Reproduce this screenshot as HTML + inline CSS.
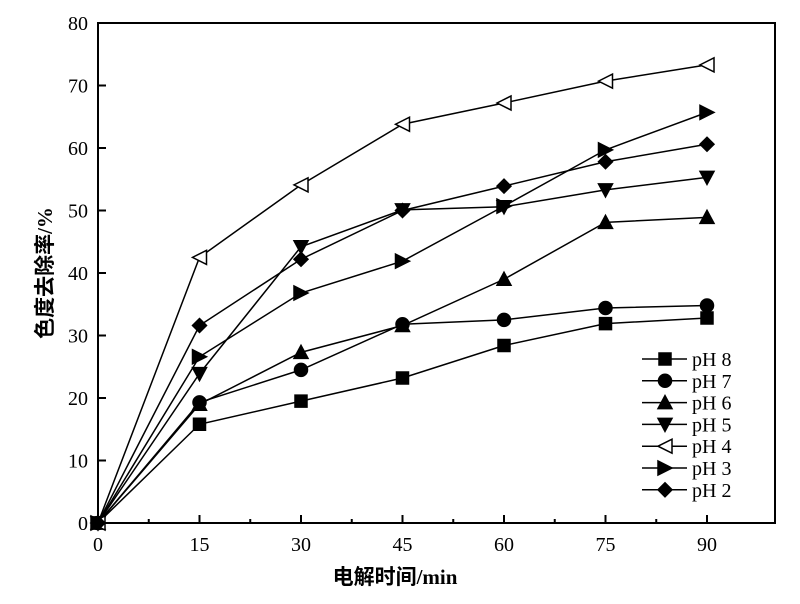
<!DOCTYPE html><html><head><meta charset="utf-8"><style>body{margin:0;background:#fff}</style></head><body>
<svg width="800" height="599" xmlns="http://www.w3.org/2000/svg" font-family="Liberation Serif, Noto Serif CJK SC, serif">
<rect x="98" y="23" width="677" height="500" fill="none" stroke="#000" stroke-width="2"/>
<g id="t" stroke="#000" stroke-width="2"></g>
<g id="d"></g>
<text x="395" y="584" font-size="21" font-family="Liberation Serif, Noto Sans CJK SC, serif" font-weight="bold" text-anchor="middle">电解时间/min</text>
<text transform="translate(52,273) rotate(-90)" font-size="21" font-weight="bold" font-family="Liberation Serif, Noto Sans CJK SC, serif" text-anchor="middle">色度去除率/%</text>
</svg>
<script>
const NS="http://www.w3.org/2000/svg",svg=document.querySelector('svg'),T=document.getElementById('t'),D=document.getElementById('d');
const X=v=>98+v*609/90,Y=v=>523-v*6.25;
function el(n,a,p){const e=document.createElementNS(NS,n);for(const k in a)e.setAttribute(k,a[k]);(p||svg).appendChild(e);return e}
for(let v=0;v<=90;v+=7.5){const x=X(v),l=v%15==0?8:4;el('line',{x1:x,x2:x,y1:523,y2:523-l},T);if(v%15==0){const t=el('text',{x:x,y:551,'font-size':20,'text-anchor':'middle'});t.textContent=v}}
for(let v=0;v<=80;v+=10){const y=Y(v);el('line',{x1:98,x2:106,y1:y,y2:y},T);const t=el('text',{x:88,y:y+7,'font-size':20,'text-anchor':'end'});t.textContent=v}
const xs=[0,15,30,45,60,75,90];
const S=[["8","sq",[0,15.8,19.5,23.2,28.4,31.9,32.8]],["7","ci",[0,19.3,24.5,31.8,32.5,34.4,34.8]],["6","up",[0,19,27.3,31.6,39,48.1,48.9]],["5","dn",[0,23.9,44.2,50.1,50.6,53.3,55.3]],["4","lt",[0,42.5,54.1,63.8,67.2,70.7,73.3]],["3","rt",[0,26.6,36.8,41.9,50.7,59.7,65.7]],["2","di",[0,31.6,42.2,50,53.9,57.8,60.6]]];
function mk(t,x,y){const s=7;let a={fill:t=='lt'?'#fff':'#000',stroke:'#000','stroke-width':1.5};
if(t=='sq')return el('rect',{...a,x:x-s+1,y:y-s+1,width:2*s-2,height:2*s-2},D);
if(t=='ci')return el('circle',{...a,cx:x,cy:y,r:s-0.5},D);
let p;if(t=='up')p=[[x,y-s],[x+s,y+s-1],[x-s,y+s-1]];if(t=='dn')p=[[x,y+s],[x+s,y-s+1],[x-s,y-s+1]];
if(t=='lt')p=[[x-s,y],[x+s,y-s],[x+s,y+s]];if(t=='rt')p=[[x+s,y],[x-s,y-s],[x-s,y+s]];if(t=='di')p=[[x,y-s],[x+s,y],[x,y+s],[x-s,y]];
el('polygon',{...a,points:p.map(q=>q.join(',')).join(' ')},D)}
S.forEach(([n,t,v],i)=>{el('polyline',{points:v.map((d,j)=>X(xs[j])+','+Y(d)).join(' '),fill:'none',stroke:'#000','stroke-width':1.5},D);v.forEach((d,j)=>mk(t,X(xs[j]),Y(d)));
const ly=359+i*21.8;el('line',{x1:642,x2:687,y1:ly,y2:ly,stroke:'#000','stroke-width':1.5},D);mk(t,665,ly);const tx=el('text',{x:692,y:ly+7,'font-size':20});tx.textContent='pH '+n});
</script></body></html>
